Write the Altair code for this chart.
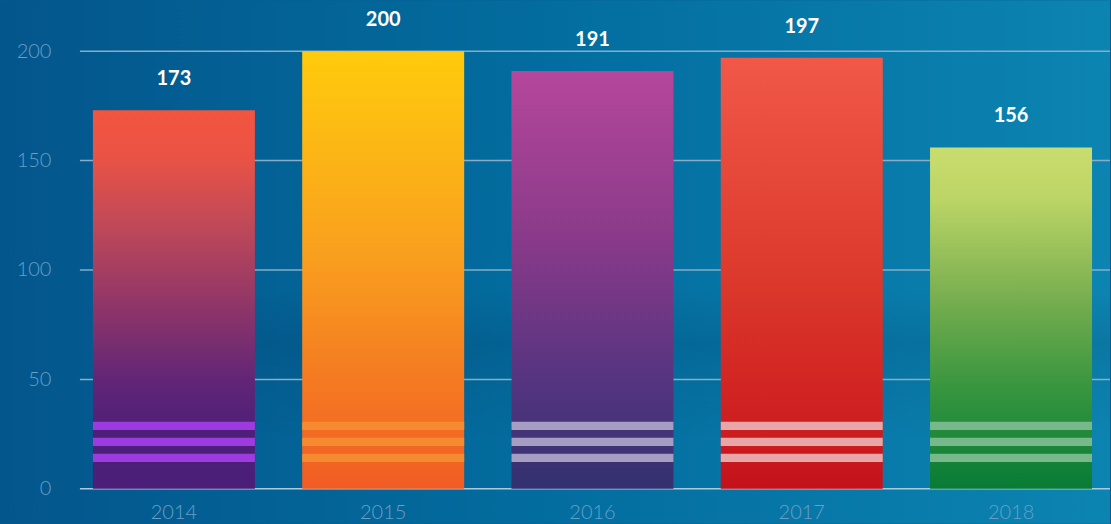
import altair as alt
import pandas as pd

# Yearly totals
YEARS = ["2014", "2015", "2016", "2017", "2018"]
VALUES = [173, 200, 191, 197, 156]
TICKS = [0, 50, 100, 150, 200]

# Vertical gradient stops for each bar (top -> bottom)
BAR_STOPS = {
    "2014": [(0.0, "#f2553f"), (0.12, "#ea5344"), (0.3, "#c04958"), (0.5, "#933767"),
             (0.72, "#602577"), (0.86, "#4d1f78"), (1.0, "#4b1e78")],
    "2015": [(0.0, "#ffcb0c"), (0.45, "#f9a11e"), (0.75, "#f47a22"), (1.0, "#f15c24")],
    "2016": [(0.0, "#b5479b"), (0.4, "#8a3a8a"), (0.75, "#543480"), (1.0, "#33316f")],
    "2017": [(0.0, "#f15848"), (0.5, "#dc3a2c"), (0.8, "#d02222"), (1.0, "#c4121b")],
    "2018": [(0.0, "#c9dd6e"), (0.15, "#bcd566"), (0.45, "#76ad4f"), (0.7, "#38963f"),
             (1.0, "#077b36")],
}
STRIPE_COLORS = {"2014": "#9c3ce0", "2015": "#f58a30", "2016": "#a59ec2",
                 "2017": "#e8a6a8", "2018": "#77b98a"}
# Decorative stripe bands near the foot of each bar (in axis units)
STRIPE_BANDS = [(26.9, 30.6), (19.6, 23.3), (12.3, 16.0)]

W, H = 1026, 438
LABEL_COLOR = "#679fc6"
GRID_COLOR = "#86aec8"

df = pd.DataFrame({"year": YEARS, "value": VALUES})
grid_df = pd.DataFrame({"v": TICKS[1:]})
base_df = pd.DataFrame({"v": [0]})
stripe_df = pd.DataFrame(
    [{"year": y, "lo": lo, "hi": hi} for y in YEARS for lo, hi in STRIPE_BANDS]
)

x_scale = alt.Scale(domain=YEARS, paddingInner=0.226, paddingOuter=0.062)
y_scale = alt.Scale(domain=[0, 200], nice=False)

x_axis = alt.Axis(title=None, domain=False, ticks=False, tickSize=0, labelPadding=14,
                  labelFont="Lato", labelFontWeight=300, labelFontSize=20,
                  labelColor=LABEL_COLOR, labelAngle=0, zindex=2)
y_axis = alt.Axis(title=None, values=TICKS, domain=False, ticks=False, tickSize=0,
                  grid=False, labelPadding=29, labelFont="Lato", labelFontWeight=300,
                  labelFontSize=20, labelColor=LABEL_COLOR, zindex=2)


def grad(stops, horizontal=False):
    return alt.Gradient(
        gradient="linear",
        stops=[alt.GradientStop(offset=o, color=c) for o, c in stops],
        x1=0, x2=1 if horizontal else 0, y1=0, y2=0 if horizontal else 1,
    )


# Page background: horizontal blue gradient covering the whole canvas
background = alt.Chart(base_df).mark_rect(
    fill=grad([(0.0, "#03568c"), (0.5, "#036d9f"), (1.0, "#0c84b1")], horizontal=True)
).encode(
    x=alt.value(-80), x2=alt.value(W + 5), y=alt.value(-51), y2=alt.value(H + 35)
)

# Soft shadow band behind the bars
shadow = alt.Chart(base_df).mark_rect(
    fill=alt.Gradient(
        gradient="linear",
        stops=[alt.GradientStop(offset=0, color="rgba(0,35,70,0)"),
               alt.GradientStop(offset=0.35, color="rgba(0,35,70,0.13)"),
               alt.GradientStop(offset=0.6, color="rgba(0,35,70,0.07)"),
               alt.GradientStop(offset=1, color="rgba(0,35,70,0)")],
        x1=0, x2=0, y1=0, y2=1,
    )
).encode(x=alt.value(175), x2=alt.value(W + 5), y=alt.value(240), y2=alt.value(390))

gridlines = alt.Chart(grid_df).mark_rule(color=GRID_COLOR, strokeWidth=1.5).encode(
    y=alt.Y("v:Q", scale=y_scale, axis=y_axis), x=alt.value(0), x2=alt.value(W + 5)
)
baseline = alt.Chart(base_df).mark_rule(color="#a9cbe0", strokeWidth=1.5).encode(
    y=alt.Y("v:Q", scale=y_scale, axis=y_axis), x=alt.value(0), x2=alt.value(W + 5)
)

layers = [background, shadow, gridlines, baseline]

for yr in YEARS:
    layers.append(
        alt.Chart(df).transform_filter(alt.datum.year == yr)
        .mark_bar(fill=grad(BAR_STOPS[yr]))
        .encode(
            x=alt.X("year:N", scale=x_scale, axis=x_axis, sort=YEARS),
            y=alt.Y("value:Q", scale=y_scale, axis=y_axis),
        )
    )
    layers.append(
        alt.Chart(stripe_df).transform_filter(alt.datum.year == yr)
        .mark_bar(color=STRIPE_COLORS[yr])
        .encode(
            x=alt.X("year:N", scale=x_scale, axis=x_axis, sort=YEARS),
            y=alt.Y("hi:Q", scale=y_scale, axis=y_axis),
            y2="lo:Q",
        )
    )

labels = alt.Chart(df).mark_text(
    font="Lato", fontWeight="bold", fontSize=20, color="white",
    baseline="alphabetic", dy=-25,
).encode(
    x=alt.X("year:N", scale=x_scale, axis=x_axis, sort=YEARS),
    y=alt.Y("value:Q", scale=y_scale, axis=y_axis),
    text="value:Q",
)
layers.append(labels)

chart = alt.layer(*layers).properties(
    width=W, height=H, padding=0, background="#045a8e"
).configure_view(stroke=None)

chart.save("out.html", embed_options={"renderer": "svg", "actions": False})
